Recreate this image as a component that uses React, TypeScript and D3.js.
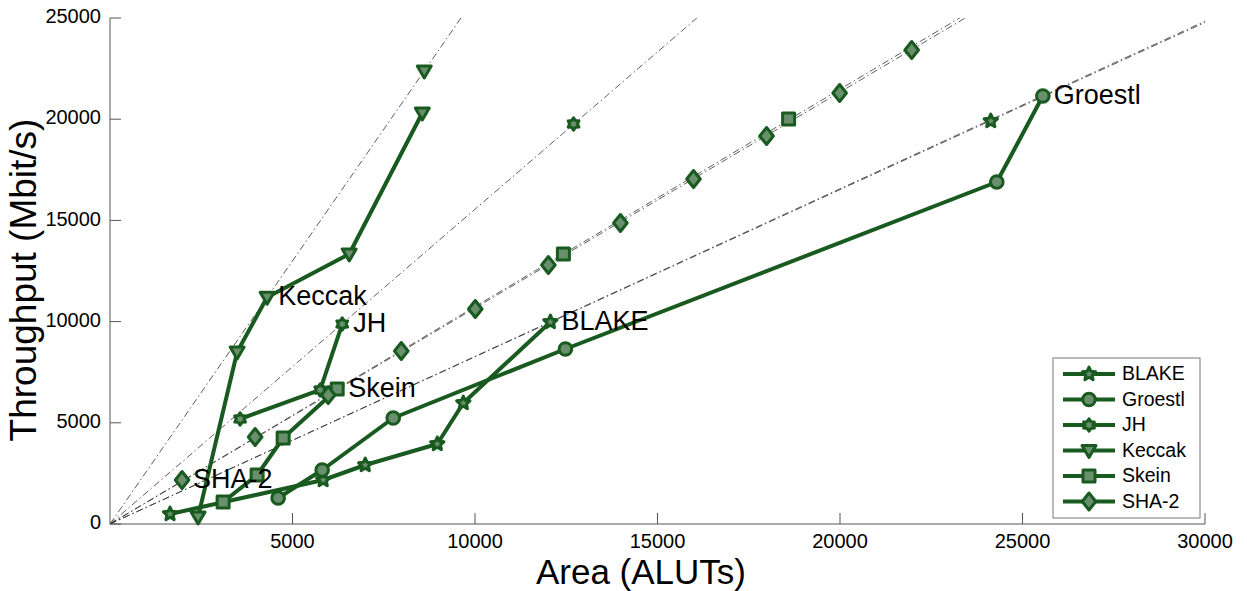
import React from "react";
import * as d3 from "d3";

// ---- data ----
const xTicks = [5000, 10000, 15000, 20000, 25000, 30000];
const yTicks = [0, 5000, 10000, 15000, 20000, 25000];

const seriesNames = ["BLAKE", "Groestl", "JH", "Keccak", "Skein", "SHA-2"];

// connected implementations (area ALUTs, throughput Mbit/s)
const blakeArea = [1645, 5841, 6993, 8967, 9680, 12066];
const blakeTp = [494, 2174, 2915, 3953, 5978, 9980];
const groestlArea = [4607, 5813, 7760, 12477, 24296, 25557];
const groestlTp = [1285, 2668, 5237, 8646, 16897, 21146];
const jhArea = [3565, 5759, 6362];
const jhTp = [5188, 6621, 9881];
const keccakArea = [2413, 3483, 4305, 6554, 8556];
const keccakTp = [350, 8498, 11200, 13340, 20306];
const skeinArea = [3099, 4031, 4744, 6225];
const skeinTp = [1087, 2421, 4249, 6670];
const sha2Area: number[] = [];
const sha2Tp: number[] = [];

// isolated (replicated core) points
const blakeCopyArea = [24131];
const blakeCopyTp = [19911];
const groestlCopyArea: number[] = [];
const groestlCopyTp: number[] = [];
const jhCopyArea = [12700];
const jhCopyTp = [19763];
const keccakCopyArea = [8610];
const keccakCopyTp = [22381];
const skeinCopyArea = [12422, 18592];
const skeinCopyTp = [13340, 20010];
const sha2CopyArea = [1974, 3976, 5978, 7980, 10008, 12010, 13984, 15986, 17988, 19990, 21964];
const sha2CopyTp = [2174, 4298, 6374, 8547, 10623, 12797, 14872, 17045, 19170, 21294, 23419];

// constant efficiency lines (throughput / area)
const efficiencySlopes = [0.826, 0.828, 1.555, 2.6, 1.074, 1.067];

// labels placed next to these points (area, throughput)
const labelArea = [12066, 25557, 6362, 4305, 6225, 1974];
const labelTp = [9980, 21146, 9881, 11200, 6670, 2174];

// ---- layout ----
const W = 1247;
const H = 591;
const x = d3.scaleLinear().domain([0, 30000]).range([110, 1205]);
const y = d3.scaleLinear().domain([0, 25000]).range([524, 18]);

const GREEN = "#185a1f";
const FILL = "#6a8f6c";
const FONT = "'Liberation Sans', Arial, Helvetica, sans-serif";

const zip = (a: number[], b: number[]) => a.map((v, i) => [v, b[i]] as [number, number]);

const connected = [
  zip(blakeArea, blakeTp),
  zip(groestlArea, groestlTp),
  zip(jhArea, jhTp),
  zip(keccakArea, keccakTp),
  zip(skeinArea, skeinTp),
  zip(sha2Area, sha2Tp),
];
const copies = [
  zip(blakeCopyArea, blakeCopyTp),
  zip(groestlCopyArea, groestlCopyTp),
  zip(jhCopyArea, jhCopyTp),
  zip(keccakCopyArea, keccakCopyTp),
  zip(skeinCopyArea, skeinCopyTp),
  zip(sha2CopyArea, sha2CopyTp),
];

function starPath(points: number, rOuter: number, rInner: number, rot = -Math.PI / 2) {
  const pts: string[] = [];
  for (let i = 0; i < points * 2; i++) {
    const r = i % 2 === 0 ? rOuter : rInner;
    const a = rot + (i * Math.PI) / points;
    pts.push(`${(r * Math.cos(a)).toFixed(2)},${(r * Math.sin(a)).toFixed(2)}`);
  }
  return "M" + pts.join("L") + "Z";
}

const markerPaths: string[] = [
  starPath(5, 7, 3.3),
  d3.symbol().type(d3.symbolCircle).size(125)()!,
  starPath(6, 6.2, 3.9),
  "M-7,-5L7,-5L0,7Z",
  "M-6,-6L6,-6L6,6L-6,6Z",
  "M0,-8.5L6.8,0L0,8.5L-6.8,0Z",
];

function Marker({ i, cx, cy }: { i: number; cx: number; cy: number }) {
  return (
    <path
      d={markerPaths[i]}
      transform={`translate(${cx},${cy})`}
      fill={FILL}
      stroke={GREEN}
      strokeWidth={3}
      strokeLinejoin="round"
    />
  );
}

export default function App() {
  const line = d3
    .line<[number, number]>()
    .x((d) => x(d[0]))
    .y((d) => y(d[1]));

  const legendX = 1053;
  const legendY = 358;
  const legendRow = 25.5;

  return (
    <svg
      width={W}
      height={H}
      style={{ position: "absolute", left: 0, top: 0, background: "#fff" }}
      fontFamily={FONT}
    >
      <rect width={W} height={H} fill="#fff" />
      {/* efficiency lines */}
      <g>
        {efficiencySlopes.map((s, i) => {
          const xEnd = Math.min(30000, 25000 / s);
          return (
            <line
              key={i}
              x1={x(0)}
              y1={y(0)}
              x2={x(xEnd)}
              y2={y(xEnd * s)}
              stroke="#333"
              strokeWidth={0.8}
              strokeDasharray="7,3,1.5,3"
            />
          );
        })}
      </g>
      {/* axes */}
      <g stroke="#555" strokeWidth={1}>
        <line x1={x(0)} y1={y(0)} x2={x(30000)} y2={y(0)} />
        <line x1={x(0)} y1={y(0)} x2={x(0)} y2={y(25000)} />
        {xTicks.map((t) => (
          <line key={"xt" + t} x1={x(t)} x2={x(t)} y1={y(0)} y2={y(0) - 11} />
        ))}
        {yTicks.map((t) => (
          <line key={"yt" + t} x1={x(0)} x2={x(0) + 11} y1={y(t)} y2={y(t)} />
        ))}
      </g>
      <g fontSize={20} fill="#000">
        {xTicks.map((t) => (
          <text key={"xl" + t} x={x(t)} y={y(0) + 19} textAnchor="middle" dominantBaseline="middle">
            {t}
          </text>
        ))}
        {yTicks.map((t) => (
          <text key={"yl" + t} x={x(0) - 9} y={y(t)} textAnchor="end" dominantBaseline="middle">
            {t}
          </text>
        ))}
      </g>
      <text x={641} y={575} fontSize={35} textAnchor="middle" dominantBaseline="middle">
        Area (ALUTs)
      </text>
      <text
        transform={`translate(26,280) rotate(-90)`}
        fontSize={37}
        textAnchor="middle"
        dominantBaseline="middle"
      >
        Throughput (Mbit/s)
      </text>
      {/* series lines */}
      {connected.map((pts, i) =>
        pts.length > 1 ? (
          <path
            key={"l" + i}
            d={line(pts)!}
            fill="none"
            stroke={GREEN}
            strokeWidth={4}
            strokeLinejoin="round"
          />
        ) : null
      )}
      {/* markers */}
      {connected.map((pts, i) =>
        pts.map((p, j) => <Marker key={`m${i}-${j}`} i={i} cx={x(p[0])} cy={y(p[1])} />)
      )}
      {copies.map((pts, i) =>
        pts.map((p, j) => <Marker key={`c${i}-${j}`} i={i} cx={x(p[0])} cy={y(p[1])} />)
      )}
      {/* series labels */}
      <g fontSize={27} fill="#000">
        {seriesNames.map((n, i) => (
          <text
            key={"lab" + n}
            x={x(labelArea[i]) + 11}
            y={y(labelTp[i]) + 1}
            dominantBaseline="middle"
          >
            {n}
          </text>
        ))}
      </g>
      {/* legend */}
      <rect
        x={legendX}
        y={legendY}
        width={147}
        height={160}
        fill="#fff"
        stroke="#777"
        strokeWidth={1}
      />
      {seriesNames.map((n, i) => {
        const ly = legendY + 16 + i * legendRow;
        return (
          <g key={"lg" + n}>
            <line x1={1063} x2={1115} y1={ly} y2={ly} stroke={GREEN} strokeWidth={4} />
            <Marker i={i} cx={1089} cy={ly} />
            <text x={1122} y={ly + 1} fontSize={19.5} dominantBaseline="middle">
              {n}
            </text>
          </g>
        );
      })}
    </svg>
  );
}
